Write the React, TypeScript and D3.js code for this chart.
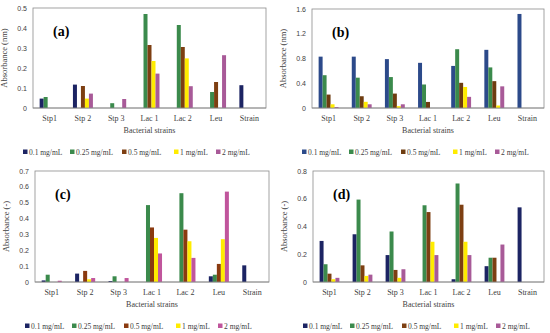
import * as d3 from 'd3';

const strains = ['Stp1', 'Stp 2', 'Stp 3', 'Lac 1', 'Lac 2', 'Leu', 'Strain'];
const concentrations = ['0.1 mg/mL', '0.25 mg/mL', '0.5 mg/mL', '1 mg/mL', '2 mg/mL'];
const seriesColors = ['#1c2463', '#3b8a4c', '#7d3f12', '#ffec00', '#a85a98'];

// one row per concentration, one value per strain
const valuesA = [
    [0.047, 0.117, 0, 0, 0, 0, 0.114],
    [0.055, 0, 0.024, 0.47, 0.415, 0.08, 0],
    [0, 0.11, 0, 0.315, 0.305, 0.13, 0],
    [0, 0.047, 0, 0.235, 0.248, 0, 0],
    [0, 0.072, 0.045, 0.172, 0.109, 0.264, 0],
];
const valuesB = [
    [0.83, 0.83, 0.79, 0.73, 0.68, 0.94, 1.52],
    [0.53, 0.49, 0.5, 0.38, 0.95, 0.656, 0],
    [0.217, 0.19, 0.233, 0.098, 0.407, 0.434, 0],
    [0.06, 0.1, 0.03, 0, 0.34, 0.04, 0],
    [0.015, 0.06, 0.06, 0, 0.18, 0.35, 0],
];
const valuesC = [
    [0.01, 0.053, 0.006, 0, 0, 0.036, 0.105],
    [0.046, 0, 0.036, 0.485, 0.56, 0.046, 0],
    [0, 0.07, 0, 0.344, 0.33, 0.114, 0],
    [0, 0.017, 0, 0.278, 0.257, 0.27, 0],
    [0.008, 0.025, 0.025, 0.18, 0.152, 0.57, 0],
];
const valuesD = [
    [0.296, 0.344, 0.194, 0, 0.02, 0.114, 0.538],
    [0.128, 0.594, 0.364, 0.553, 0.71, 0.175, 0],
    [0.06, 0.12, 0.087, 0.504, 0.557, 0.175, 0],
    [0.02, 0.044, 0.03, 0.29, 0.29, 0, 0],
    [0.03, 0.053, 0.092, 0.194, 0.194, 0.27, 0],
];

const ticksA = [0, 0.1, 0.2, 0.3, 0.4, 0.5];
const ticksB = [0, 0.4, 0.8, 1.2, 1.6];
const ticksC = [0, 0.1, 0.2, 0.3, 0.4, 0.5, 0.6, 0.7];
const ticksD = [0, 0.2, 0.4, 0.6, 0.8];

const legendOffsets = [0, 47, 99, 151, 193];
const serif = '"Liberation Serif", "Times New Roman", serif';
const sans = '"Liberation Sans", Arial, sans-serif';

interface Box { left: number; right: number; top: number; bottom: number; }

interface PanelProps {
    label: string;
    values: number[][];
    ticks: number[];
    yTitle: string;
    box: Box;
    colors?: string[];
}

function Panel({ label, values, ticks, yTitle, box, colors = seriesColors }: PanelProps) {
    const x0 = d3.scaleBand().domain(strains).range([box.left, box.right]);
    const bw = x0.bandwidth();
    const x1 = d3.scaleBand().domain(concentrations).range([bw * 0.2, bw * 0.8]);
    const y = d3.scaleLinear().domain([0, ticks[ticks.length - 1]]).range([box.bottom, box.top]);
    const fmt = (v: number) => (v === 0 ? '0' : String(v));
    const titleX = box.left - 26;
    const midY = (box.top + box.bottom) / 2;

    return (
        <g>
            <rect x={box.left} y={box.top} width={box.right - box.left} height={box.bottom - box.top}
                fill="white" stroke="#8c8c8c" strokeWidth={0.8} />
            {ticks.map(t => (
                <text key={t} x={box.left - 6} y={y(t) + 2.5} textAnchor="end" fontSize={7}
                    fontFamily={sans} fill="#404040">{fmt(t)}</text>
            ))}
            <text transform={`translate(${titleX},${midY}) rotate(-90)`} textAnchor="middle"
                fontSize={8.5} fontFamily={serif} fill="#404040">{yTitle}</text>
            {values.map((row, si) => row.map((v, ci) => (
                v > 0 ? (
                    <rect key={`${si}-${ci}`} x={(x0(strains[ci]) ?? 0) + (x1(concentrations[si]) ?? 0)}
                        y={y(v)} width={x1.bandwidth()} height={box.bottom - y(v)} fill={colors[si]} />
                ) : null
            )))}
            <line x1={box.left} x2={box.right} y1={box.bottom} y2={box.bottom} stroke="#8c8c8c" strokeWidth={0.8} />
            {strains.map(s => (
                <text key={s} x={(x0(s) ?? 0) + bw / 2} y={box.bottom + 13} textAnchor="middle"
                    fontSize={8} fontFamily={serif} fill="#404040">{s}</text>
            ))}
            <text x={(box.left + box.right) / 2} y={box.bottom + 25} textAnchor="middle"
                fontSize={8} fontFamily={serif} fill="#404040">Bacterial strains</text>
            <text x={box.left + 20} y={box.top + 28} fontSize={14} fontWeight="bold"
                fontFamily={serif} fill="#000">{label}</text>
            {concentrations.map((c, i) => {
                const lx = box.left - 10 + legendOffsets[i];
                const ly = box.bottom + 44;
                return (
                    <g key={c}>
                        <rect x={lx} y={ly - 2.5} width={4.5} height={4.5} fill={colors[i]} />
                        <text x={lx + 6} y={ly + 2.5} fontSize={7.5} fontFamily={serif} fill="#404040">{c}</text>
                    </g>
                );
            })}
        </g>
    );
}

export default function App() {
    return (
        <svg width={550} height={333} style={{ position: 'absolute', left: 0, top: 0, background: 'white' }}>
            <Panel label="(a)" values={valuesA} ticks={ticksA} yTitle="Absorbance (nm)"
                box={{ left: 33, right: 266, top: 8, bottom: 108 }} />
            <Panel label="(b)" values={valuesB} ticks={ticksB} yTitle="Absorbance (nm)"
                box={{ left: 312, right: 544, top: 9, bottom: 108 }}
                colors={['#2c4a8a', '#3b8a4c', '#6e3c10', '#ffec00', '#a85a98']} />
            <Panel label="(c)" values={valuesC} ticks={ticksC} yTitle="Absorbance (-)"
                box={{ left: 35, right: 269, top: 171, bottom: 282 }}
                colors={['#1c2463', '#3b8a4c', '#8a3a10', '#ffec00', '#c0559c']} />
            <Panel label="(d)" values={valuesD} ticks={ticksD} yTitle="Absorbance (-)"
                box={{ left: 313, right: 544, top: 171, bottom: 282 }} />
        </svg>
    );
}
